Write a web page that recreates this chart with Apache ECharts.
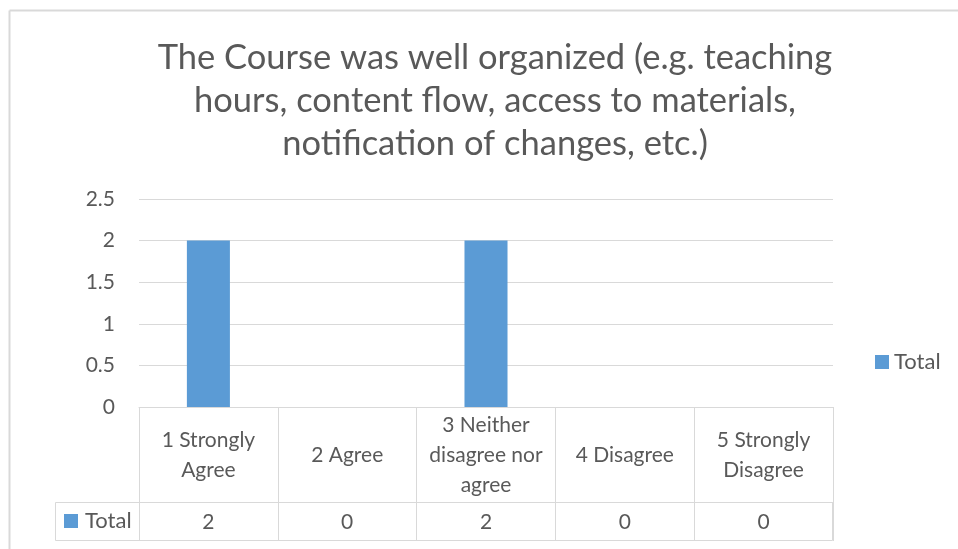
<!DOCTYPE html>
<html>
<head>
<meta charset="utf-8">
<script src="https://cdn.jsdelivr.net/npm/echarts@6/dist/echarts.min.js"></script>
<style>
  html, body { margin: 0; padding: 0; background: #fff; }
  #chart { width: 958px; height: 549px; }
</style>
</head>
<body>
<div id="chart"></div>
<script>
const titleText = 'The Course was well organized (e.g. teaching\nhours, content flow, access to materials,\nnotification of changes, etc.)'
const categories = ['1 Strongly\nAgree', '2 Agree', '3 Neither\ndisagree nor\nagree', '4 Disagree', '5 Strongly\nDisagree']
const totals = [2, 0, 2, 0, 0]
const yTicks = { min: 0, max: 2.5, interval: 0.5 }

const textColor = '#595959'
const lineColor = '#d9d9d9'
const barColor = '#5b9bd5'
const font = 'Lato, "Open Sans", sans-serif'

const chart = echarts.init(document.getElementById('chart'), null, { renderer: 'canvas' })

chart.setOption({
  backgroundColor: '#fff',
  animation: false,
  title: {
    text: titleText,
    left: 490,
    top: 31,
    textAlign: 'center',
    textStyle: {
      fontFamily: font,
      fontWeight: 'normal',
      fontSize: 34.5,
      lineHeight: 43,
      color: textColor,
      align: 'center',
    },
  },
  grid: { left: 139, right: 125, top: 199, bottom: 142 },
  legend: [
    {
      data: ['Total'],
      icon: 'rect',
      left: 875,
      top: 351,
      padding: 0,
      itemWidth: 14,
      itemHeight: 14,
      textStyle: { fontFamily: font, fontSize: 22, color: textColor },
    },
    {
      data: ['Total'],
      icon: 'rect',
      left: 64,
      top: 510,
      padding: 0,
      itemWidth: 14,
      itemHeight: 14,
      selectedMode: false,
      textStyle: { fontFamily: font, fontSize: 22, color: textColor, padding: [0, 0, 0, 2] },
    },
  ],
  xAxis: [
    {
      type: 'category',
      data: categories,
      axisLine: { lineStyle: { color: lineColor, width: 1 } },
      axisTick: { show: true, interval: 0, length: 134, lineStyle: { color: lineColor } },
      axisLabel: {
        interval: 0,
        margin: 48,
        verticalAlign: 'middle',
        lineHeight: 30,
        fontFamily: font,
        fontSize: 21,
        color: textColor,
      },
    },
    {
      type: 'category',
      data: categories,
      position: 'bottom',
      offset: 95,
      axisLine: { lineStyle: { color: lineColor, width: 1 } },
      axisTick: { show: false },
      axisLabel: {
        interval: 0,
        margin: 20,
        verticalAlign: 'middle',
        fontFamily: font,
        fontSize: 21,
        color: textColor,
        formatter: (v, i) => String(totals[i]),
      },
    },
  ],
  yAxis: {
    type: 'value',
    min: yTicks.min,
    max: yTicks.max,
    interval: yTicks.interval,
    axisLine: { show: false },
    axisTick: { show: false },
    splitLine: { lineStyle: { color: lineColor, width: 1 } },
    axisLabel: { margin: 24, fontFamily: font, fontSize: 21, color: textColor },
  },
  series: [
    {
      name: 'Total',
      type: 'bar',
      data: totals,
      barWidth: '31%',
      itemStyle: { color: barColor },
    },
  ],
  graphic: [
    // outer chart border
    { type: 'line', shape: { x1: 9.5, y1: 10.5, x2: 958, y2: 10.5 }, style: { stroke: lineColor, lineWidth: 2 } },
    { type: 'line', shape: { x1: 9.5, y1: 10.5, x2: 9.5, y2: 549 }, style: { stroke: lineColor, lineWidth: 2 } },
    // data table value row frame
    { type: 'rect', shape: { x: 55.5, y: 502.5, width: 777, height: 38 }, style: { fill: 'none', stroke: lineColor, lineWidth: 1 } },
    { type: 'line', shape: { x1: 139.5, y1: 502.5, x2: 139.5, y2: 540.5 }, style: { stroke: lineColor, lineWidth: 1 } },
  ],
})
</script>
</body>
</html>
